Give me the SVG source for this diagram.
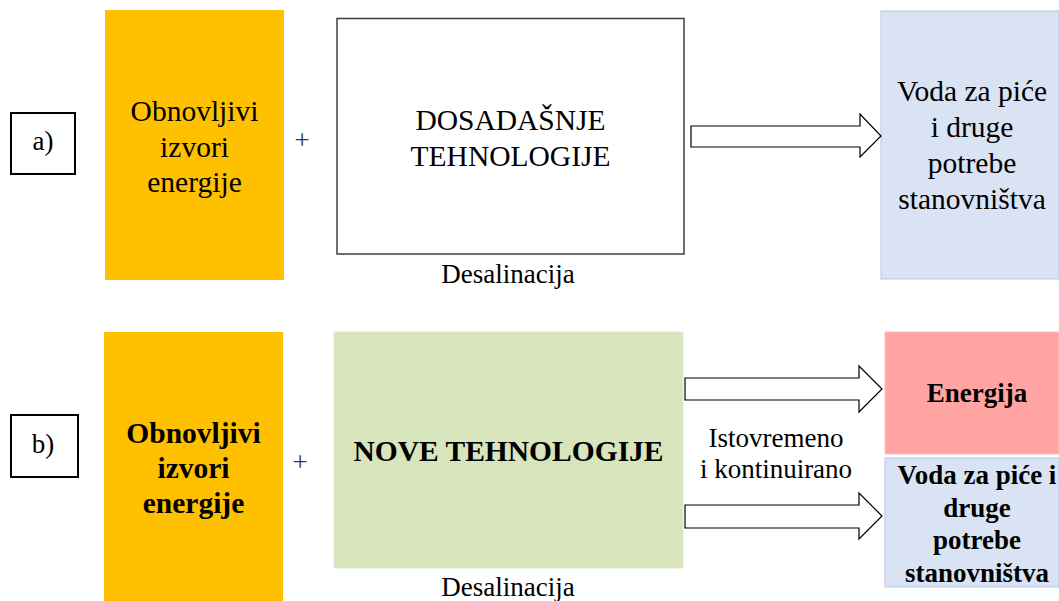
<svg xmlns="http://www.w3.org/2000/svg" width="1059" height="601" viewBox="0 0 1059 601">
<style>
text{font-family:"Liberation Serif","Times New Roman",serif;fill:#000;text-anchor:middle}
.r{font-size:29.5px}
.s{font-size:27px}
.b{font-weight:bold}
.plus{font-size:27px;fill:#333}
.arrow{fill:#fff;stroke:#000;stroke-width:1.2}
</style>
<rect width="1059" height="601" fill="#fff"/>
<g id="label-a">
<rect x="11" y="113" width="64" height="61" fill="#fff" stroke="#000" stroke-width="2"/>
<text class="s" x="43" y="150">a)</text>
</g>
<g id="obnovljivi-a">
<rect x="105" y="10" width="179" height="270" fill="#ffc000"/>
<text class="r" x="194.5" y="121">Obnovljivi</text>
<text class="r" x="194.5" y="157">izvori</text>
<text class="r" x="194.5" y="192">energije</text>
</g>
<text class="plus" x="302" y="149">+</text>
<g id="dosadasnje">
<rect x="337" y="18.5" width="347" height="235.5" fill="#fff" stroke="#404040" stroke-width="1.5"/>
<text class="r" x="510.5" y="130">DOSADAŠNJE</text>
<text class="r" x="510.5" y="166">TEHNOLOGIJE</text>
<text class="s" x="508" y="283">Desalinacija</text>
</g>
<g id="voda-a">
<rect x="881" y="11" width="178" height="268" fill="#dae3f3" stroke="#b4c7e7" stroke-width="1"/>
<text class="r" x="972" y="101">Voda za piće</text>
<text class="r" x="972" y="137">i druge</text>
<text class="r" x="972" y="173">potrebe</text>
<text class="r" x="972" y="209">stanovništva</text>
</g>
<g id="label-b">
<rect x="11" y="415" width="67" height="62" fill="#fff" stroke="#000" stroke-width="2"/>
<text class="s" x="43" y="453">b)</text>
</g>
<g id="obnovljivi-b">
<rect x="104" y="332" width="179" height="269" fill="#ffc000"/>
<text class="r b" x="193.5" y="443">Obnovljivi</text>
<text class="r b" x="193.5" y="478">izvori</text>
<text class="r b" x="193.5" y="513">energije</text>
</g>
<text class="plus" x="300" y="471">+</text>
<g id="nove">
<rect x="334" y="332" width="349" height="236" fill="#d8e4bc" stroke="#e2ebd0" stroke-width="1"/>
<text class="r b" x="508.5" y="461">NOVE TEHNOLOGIJE</text>
<text class="s" x="508" y="596">Desalinacija</text>
</g>
<g id="energija">
<rect x="885" y="332" width="174" height="122" fill="#ffa3a3" stroke="#ffc0c0" stroke-width="1"/>
<text class="s b" x="977" y="402">Energija</text>
</g>
<g id="voda-b">
<rect x="885" y="458" width="174" height="129" fill="#dae3f3" stroke="#b4c7e7" stroke-width="1"/>
<text class="s b" x="977" y="484">Voda za piće i</text>
<text class="s b" x="977" y="517">druge</text>
<text class="s b" x="977" y="549">potrebe</text>
<text class="s b" x="977" y="582">stanovništva</text>
</g>
<text class="s" x="776" y="447">Istovremeno</text>
<text class="s" x="776" y="478">i kontinuirano</text>
<g id="connectors">
<path class="arrow" d="M691,126 H860 V114 L881,136 L860,157 V147 H691 Z"/>
<path class="arrow" d="M685,378 H859 V366 L882,389 L859,412 V400 H685 Z"/>
<path class="arrow" d="M685,505 H859 V493 L882,516 L859,539 V528 H685 Z"/>
</g>
</svg>
